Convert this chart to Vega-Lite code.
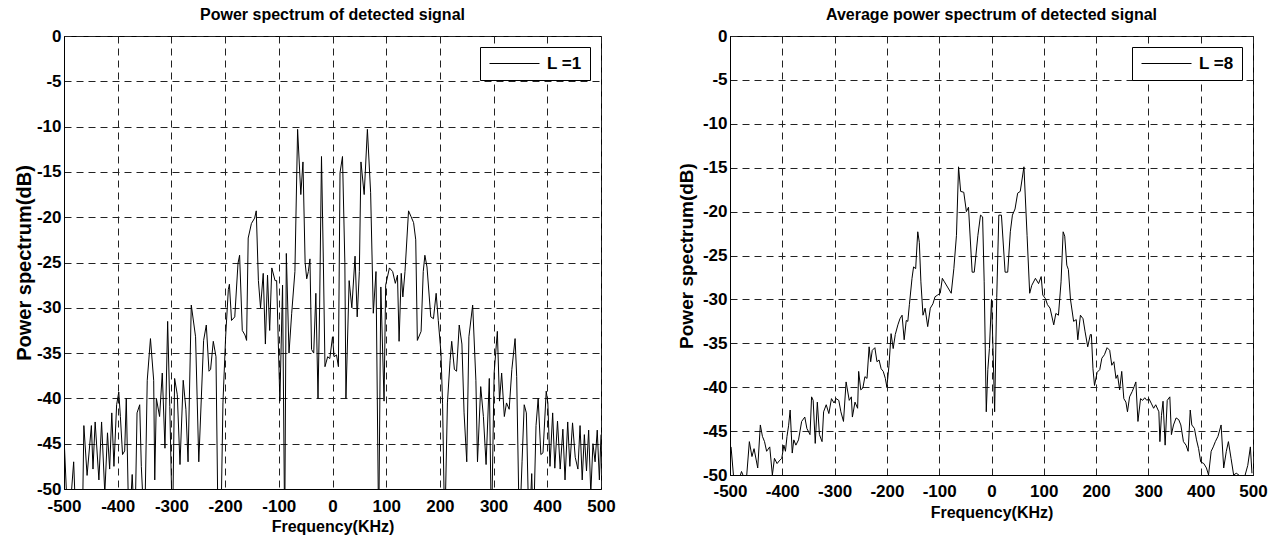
{
  "$schema": "https://vega.github.io/schema/vega-lite/v6.json",
  "background": "white",
  "autosize": {"type": "pad"},
  "padding": {"left": 13, "top": 6, "right": 5, "bottom": 5},
  "datasets": {
    "L1": [
      {"freq": -500, "power": -44.2}, {"freq": -492, "power": -55}, {"freq": -482, "power": -47}, {"freq": -477, "power": -55},
      {"freq": -466, "power": -55}, {"freq": -463, "power": -43}, {"freq": -457, "power": -48.5}, {"freq": -449, "power": -43},
      {"freq": -446, "power": -47.8}, {"freq": -442, "power": -42.6}, {"freq": -435, "power": -49}, {"freq": -430, "power": -42.6},
      {"freq": -424, "power": -50.5}, {"freq": -419, "power": -43.8}, {"freq": -415, "power": -47.8}, {"freq": -411, "power": -41.6},
      {"freq": -407, "power": -47.5}, {"freq": -402, "power": -40.7}, {"freq": -398, "power": -39.3}, {"freq": -395, "power": -42},
      {"freq": -391, "power": -46.2}, {"freq": -387, "power": -45.8}, {"freq": -384, "power": -40}, {"freq": -379, "power": -55},
      {"freq": -373, "power": -48.4}, {"freq": -368, "power": -55}, {"freq": -364, "power": -41.6}, {"freq": -359, "power": -40.7},
      {"freq": -356, "power": -47.5}, {"freq": -350, "power": -55}, {"freq": -345, "power": -38}, {"freq": -339, "power": -33.4},
      {"freq": -333, "power": -38}, {"freq": -331, "power": -49}, {"freq": -328, "power": -40}, {"freq": -322, "power": -42},
      {"freq": -317, "power": -37.2}, {"freq": -312, "power": -45.5}, {"freq": -307, "power": -31.5}, {"freq": -303, "power": -40.9},
      {"freq": -298, "power": -55}, {"freq": -294, "power": -37.8}, {"freq": -289, "power": -39.6}, {"freq": -284, "power": -47.3},
      {"freq": -278, "power": -38}, {"freq": -273, "power": -41.2}, {"freq": -269, "power": -47}, {"freq": -263, "power": -29.7},
      {"freq": -255, "power": -33.2}, {"freq": -249, "power": -47}, {"freq": -240, "power": -33.6}, {"freq": -235, "power": -31.9},
      {"freq": -230, "power": -37}, {"freq": -227, "power": -36.8}, {"freq": -222, "power": -33.7}, {"freq": -217, "power": -35.4},
      {"freq": -213, "power": -55}, {"freq": -208, "power": -55}, {"freq": -204, "power": -40.5}, {"freq": -199, "power": -33.2},
      {"freq": -194, "power": -28}, {"freq": -192, "power": -27.4}, {"freq": -188, "power": -31.4}, {"freq": -182, "power": -31},
      {"freq": -176, "power": -25.1}, {"freq": -173, "power": -24.2}, {"freq": -168, "power": -32.5}, {"freq": -163, "power": -33},
      {"freq": -160, "power": -33.6}, {"freq": -157, "power": -22.3}, {"freq": -151, "power": -20.7}, {"freq": -145, "power": -20.1},
      {"freq": -142, "power": -19.3}, {"freq": -138, "power": -27}, {"freq": -134, "power": -30}, {"freq": -129, "power": -26.2},
      {"freq": -125, "power": -34}, {"freq": -121, "power": -26.4}, {"freq": -117, "power": -32.5}, {"freq": -113, "power": -25.6},
      {"freq": -107, "power": -27}, {"freq": -104, "power": -27}, {"freq": -98, "power": -40.3}, {"freq": -93, "power": -27.5},
      {"freq": -89, "power": -55}, {"freq": -86, "power": -24}, {"freq": -81, "power": -35}, {"freq": -76, "power": -30.6},
      {"freq": -70, "power": -26}, {"freq": -65, "power": -10.3}, {"freq": -59, "power": -17.5}, {"freq": -55, "power": -13.9},
      {"freq": -51, "power": -25}, {"freq": -48, "power": -26.8}, {"freq": -45, "power": -26}, {"freq": -42, "power": -24.6},
      {"freq": -39, "power": -34.6}, {"freq": -35, "power": -35}, {"freq": -31, "power": -28.4}, {"freq": -27, "power": -40},
      {"freq": -24, "power": -30}, {"freq": -20.5, "power": -13.3}, {"freq": -17, "power": -25}, {"freq": -14, "power": -36.5},
      {"freq": -9, "power": -35.4}, {"freq": -5, "power": -35.6}, {"freq": 0, "power": -33.2}, {"freq": 3, "power": -35.4},
      {"freq": 7.5, "power": -35.2}, {"freq": 11, "power": -36.5}, {"freq": 14, "power": -15.1}, {"freq": 18.6, "power": -13.3},
      {"freq": 23, "power": -25}, {"freq": 25, "power": -40}, {"freq": 31, "power": -27}, {"freq": 36, "power": -30},
      {"freq": 42, "power": -24.3}, {"freq": 46, "power": -31}, {"freq": 50, "power": -26}, {"freq": 53, "power": -13.9},
      {"freq": 59, "power": -17.5}, {"freq": 65, "power": -10.3}, {"freq": 71, "power": -17.3}, {"freq": 76, "power": -30.6},
      {"freq": 81, "power": -26}, {"freq": 86, "power": -55}, {"freq": 90, "power": -27.7}, {"freq": 96, "power": -40.3},
      {"freq": 99, "power": -27.5}, {"freq": 106, "power": -25.6}, {"freq": 112, "power": -26}, {"freq": 117, "power": -27.3},
      {"freq": 121, "power": -26.4}, {"freq": 124, "power": -33.7}, {"freq": 128, "power": -26.2}, {"freq": 131, "power": -28.8},
      {"freq": 135, "power": -26}, {"freq": 141.6, "power": -19.3}, {"freq": 146, "power": -19.9}, {"freq": 151, "power": -20.6},
      {"freq": 155, "power": -22.5}, {"freq": 158, "power": -33.6}, {"freq": 165, "power": -32.6}, {"freq": 169, "power": -26},
      {"freq": 172, "power": -24.2}, {"freq": 176, "power": -25.5}, {"freq": 183, "power": -31}, {"freq": 188, "power": -31.2},
      {"freq": 193, "power": -28.4}, {"freq": 197, "power": -31.4}, {"freq": 202, "power": -35}, {"freq": 205, "power": -40.6},
      {"freq": 209, "power": -55}, {"freq": 214, "power": -40.5}, {"freq": 219, "power": -35.8}, {"freq": 222, "power": -33.7},
      {"freq": 227, "power": -36.8}, {"freq": 231, "power": -37}, {"freq": 236, "power": -31.9}, {"freq": 241, "power": -34},
      {"freq": 245, "power": -41.6}, {"freq": 250, "power": -47}, {"freq": 254, "power": -33.2}, {"freq": 261, "power": -29.7},
      {"freq": 267, "power": -38}, {"freq": 270, "power": -47}, {"freq": 276, "power": -38.7}, {"freq": 281, "power": -42},
      {"freq": 286, "power": -47.3}, {"freq": 292, "power": -37.8}, {"freq": 296, "power": -55}, {"freq": 301, "power": -37.2},
      {"freq": 307, "power": -32.6}, {"freq": 311, "power": -40.3}, {"freq": 315, "power": -37.2}, {"freq": 320, "power": -42},
      {"freq": 324, "power": -40.5}, {"freq": 329, "power": -41.2}, {"freq": 334, "power": -36.8}, {"freq": 340, "power": -33.4},
      {"freq": 343, "power": -37.6}, {"freq": 348, "power": -55}, {"freq": 353, "power": -47}, {"freq": 357, "power": -40.7},
      {"freq": 361, "power": -41.6}, {"freq": 366, "power": -55}, {"freq": 371, "power": -48.3}, {"freq": 374, "power": -55},
      {"freq": 379, "power": -43}, {"freq": 383, "power": -40}, {"freq": 388, "power": -46.2}, {"freq": 392, "power": -46},
      {"freq": 398, "power": -39.2}, {"freq": 401, "power": -40.5}, {"freq": 405, "power": -47.5}, {"freq": 410, "power": -41.6},
      {"freq": 414, "power": -47.7}, {"freq": 419, "power": -42.5}, {"freq": 424, "power": -47.8}, {"freq": 429, "power": -43.4},
      {"freq": 433, "power": -49}, {"freq": 438, "power": -42.6}, {"freq": 442, "power": -47.5}, {"freq": 447, "power": -42.7},
      {"freq": 452, "power": -46.5}, {"freq": 457, "power": -47.8}, {"freq": 461, "power": -43}, {"freq": 465, "power": -49},
      {"freq": 469, "power": -44}, {"freq": 473, "power": -48}, {"freq": 477, "power": -43.5}, {"freq": 481, "power": -50.5},
      {"freq": 485, "power": -45}, {"freq": 489, "power": -47}, {"freq": 493, "power": -43.5}, {"freq": 497, "power": -49},
      {"freq": 500, "power": -44}
    ],
    "L8": [
      {"freq": -498, "power": -46.8}, {"freq": -492, "power": -51}, {"freq": -485, "power": -51}, {"freq": -478, "power": -49.6},
      {"freq": -472, "power": -50.5}, {"freq": -468, "power": -50}, {"freq": -463, "power": -46.2}, {"freq": -458, "power": -47.9},
      {"freq": -454, "power": -47}, {"freq": -447, "power": -49.2}, {"freq": -442, "power": -44.3}, {"freq": -438, "power": -45.6},
      {"freq": -434, "power": -46.2}, {"freq": -430, "power": -47.3}, {"freq": -424, "power": -46.8}, {"freq": -419, "power": -50},
      {"freq": -415, "power": -48.1}, {"freq": -410, "power": -48.7}, {"freq": -406, "power": -48.4}, {"freq": -401, "power": -48.1},
      {"freq": -397, "power": -46.6}, {"freq": -394, "power": -47.3}, {"freq": -391, "power": -45.6}, {"freq": -388, "power": -44.4},
      {"freq": -385, "power": -42.6}, {"freq": -381, "power": -47.5}, {"freq": -378, "power": -46}, {"freq": -374, "power": -46.6},
      {"freq": -369, "power": -46}, {"freq": -363, "power": -43.9}, {"freq": -357, "power": -43.4}, {"freq": -353, "power": -44.7},
      {"freq": -347, "power": -45.4}, {"freq": -344, "power": -41.1}, {"freq": -341, "power": -41.5}, {"freq": -337, "power": -46.4},
      {"freq": -333, "power": -41.7}, {"freq": -329, "power": -45.4}, {"freq": -324, "power": -46.2}, {"freq": -321, "power": -42.8},
      {"freq": -316, "power": -42}, {"freq": -311, "power": -43}, {"freq": -306, "power": -41.3}, {"freq": -301, "power": -41.8},
      {"freq": -297, "power": -41.3}, {"freq": -292, "power": -41.5}, {"freq": -288, "power": -42.8}, {"freq": -283, "power": -43.9},
      {"freq": -278, "power": -39.4}, {"freq": -272, "power": -41.5}, {"freq": -268, "power": -41.1}, {"freq": -266, "power": -43.4},
      {"freq": -261, "power": -41.7}, {"freq": -256, "power": -42.4}, {"freq": -254, "power": -38.2}, {"freq": -250, "power": -40.3},
      {"freq": -246, "power": -40.1}, {"freq": -242, "power": -38.8}, {"freq": -238, "power": -39}, {"freq": -234, "power": -35.4},
      {"freq": -231, "power": -37.1}, {"freq": -228, "power": -35.8}, {"freq": -223, "power": -35.5}, {"freq": -219, "power": -37.1},
      {"freq": -215, "power": -36.9}, {"freq": -211, "power": -37.9}, {"freq": -207, "power": -38.2}, {"freq": -203, "power": -39},
      {"freq": -200, "power": -40}, {"freq": -196, "power": -37.5}, {"freq": -192, "power": -33.9}, {"freq": -188, "power": -35.6},
      {"freq": -184, "power": -34}, {"freq": -179, "power": -32.9}, {"freq": -175, "power": -32.2}, {"freq": -171, "power": -31.8},
      {"freq": -167, "power": -34.6}, {"freq": -163, "power": -32.4}, {"freq": -160, "power": -32.5}, {"freq": -157, "power": -30.6},
      {"freq": -152, "power": -27.6}, {"freq": -149, "power": -26.3}, {"freq": -145, "power": -26.5}, {"freq": -141, "power": -22.3},
      {"freq": -138, "power": -23.5}, {"freq": -135, "power": -28}, {"freq": -131, "power": -31.8}, {"freq": -127, "power": -31},
      {"freq": -122, "power": -33.1}, {"freq": -117, "power": -31}, {"freq": -112, "power": -30.5}, {"freq": -108, "power": -29.7},
      {"freq": -103, "power": -29.5}, {"freq": -98, "power": -29.3}, {"freq": -94, "power": -27.6}, {"freq": -90, "power": -28},
      {"freq": -83, "power": -28.7}, {"freq": -77, "power": -29.3}, {"freq": -72, "power": -26.5}, {"freq": -67, "power": -22.7},
      {"freq": -63, "power": -14.9}, {"freq": -59, "power": -17.7}, {"freq": -53, "power": -17.8}, {"freq": -48, "power": -20},
      {"freq": -44, "power": -19.5}, {"freq": -37, "power": -26.9}, {"freq": -33, "power": -26.9}, {"freq": -26, "power": -22.7},
      {"freq": -21, "power": -20.4}, {"freq": -17, "power": -20.6}, {"freq": -14, "power": -28}, {"freq": -10, "power": -42.8},
      {"freq": -7, "power": -38}, {"freq": -4, "power": -35.6}, {"freq": 0, "power": -30}, {"freq": 3, "power": -35.8},
      {"freq": 6, "power": -42.8}, {"freq": 10, "power": -29.8}, {"freq": 14, "power": -20.4}, {"freq": 19, "power": -20.4},
      {"freq": 26, "power": -26.9}, {"freq": 31, "power": -26.9}, {"freq": 36, "power": -22.3}, {"freq": 40, "power": -20.4},
      {"freq": 45, "power": -19.7}, {"freq": 50, "power": -17.9}, {"freq": 55, "power": -17.7}, {"freq": 62, "power": -14.9},
      {"freq": 68, "power": -22.7}, {"freq": 73, "power": -29.3}, {"freq": 77, "power": -28.4}, {"freq": 84, "power": -27.6},
      {"freq": 90, "power": -28.2}, {"freq": 95, "power": -27.4}, {"freq": 98, "power": -29.5}, {"freq": 103, "power": -29.9},
      {"freq": 107, "power": -30.6}, {"freq": 112, "power": -31}, {"freq": 119, "power": -32.9}, {"freq": 123, "power": -31.6},
      {"freq": 128, "power": -31.8}, {"freq": 133, "power": -28}, {"freq": 137, "power": -22.3}, {"freq": 140, "power": -22.8},
      {"freq": 144, "power": -26.1}, {"freq": 147, "power": -26.6}, {"freq": 151, "power": -30}, {"freq": 157, "power": -32.5},
      {"freq": 162, "power": -32.3}, {"freq": 165, "power": -34.6}, {"freq": 170, "power": -31.8}, {"freq": 175, "power": -32.2},
      {"freq": 179, "power": -33.7}, {"freq": 184, "power": -35.4}, {"freq": 189, "power": -34}, {"freq": 191, "power": -34},
      {"freq": 194, "power": -37.9}, {"freq": 197, "power": -39.8}, {"freq": 202, "power": -38.3}, {"freq": 207, "power": -38},
      {"freq": 211, "power": -36.7}, {"freq": 216, "power": -36.3}, {"freq": 221, "power": -35.5}, {"freq": 226, "power": -35.8},
      {"freq": 230, "power": -37.5}, {"freq": 234, "power": -37.1}, {"freq": 238, "power": -39}, {"freq": 241, "power": -38.6},
      {"freq": 245, "power": -40.3}, {"freq": 249, "power": -38.2}, {"freq": 253, "power": -41.3}, {"freq": 257, "power": -41.7},
      {"freq": 260, "power": -42.8}, {"freq": 264, "power": -41.1}, {"freq": 269, "power": -40.5}, {"freq": 273, "power": -39.9},
      {"freq": 276, "power": -39.4}, {"freq": 280, "power": -43.9}, {"freq": 285, "power": -41.3}, {"freq": 289, "power": -41.5},
      {"freq": 293, "power": -41.2}, {"freq": 297, "power": -41.5}, {"freq": 301, "power": -41.3}, {"freq": 306, "power": -41.9},
      {"freq": 310, "power": -42.4}, {"freq": 314, "power": -42}, {"freq": 320, "power": -42.8}, {"freq": 322, "power": -46.2},
      {"freq": 325, "power": -43.2}, {"freq": 328, "power": -41.6}, {"freq": 332, "power": -46.6}, {"freq": 336, "power": -41.5},
      {"freq": 341, "power": -41.1}, {"freq": 344, "power": -45.4}, {"freq": 348, "power": -44.3}, {"freq": 353, "power": -43.5},
      {"freq": 358, "power": -43.7}, {"freq": 362, "power": -44.3}, {"freq": 367, "power": -46.2}, {"freq": 372, "power": -46.6},
      {"freq": 376, "power": -47.3}, {"freq": 380, "power": -42.6}, {"freq": 383, "power": -44.3}, {"freq": 388, "power": -44.7},
      {"freq": 392, "power": -46}, {"freq": 396, "power": -47}, {"freq": 400, "power": -48.5}, {"freq": 406, "power": -48.7},
      {"freq": 411, "power": -49.2}, {"freq": 415, "power": -50}, {"freq": 420, "power": -47.3}, {"freq": 424, "power": -46.8},
      {"freq": 428, "power": -46.2}, {"freq": 433, "power": -45.6}, {"freq": 439, "power": -44.3}, {"freq": 444, "power": -49.2},
      {"freq": 449, "power": -47.3}, {"freq": 453, "power": -46.2}, {"freq": 458, "power": -48.1}, {"freq": 463, "power": -50},
      {"freq": 468, "power": -49.8}, {"freq": 473, "power": -50}, {"freq": 479, "power": -50.3}, {"freq": 485, "power": -50},
      {"freq": 490, "power": -48.9}, {"freq": 495, "power": -46.8}, {"freq": 498, "power": -49.8}
    ]
  },
  "config": {
    "font": "Liberation Sans",
    "view": {"stroke": "black", "strokeWidth": 1},
    "axis": {
      "domainColor": "black", "domainWidth": 1, "ticks": false,
      "grid": true, "gridColor": "#222222", "gridDash": [7, 5], "gridWidth": 1, "gridOpacity": 1,
      "labelFont": "Liberation Sans", "labelFontWeight": "bold", "labelFontSize": 17, "labelColor": "black",
      "labelFlush": false, "labelOverlap": false, "labelExpr": "'' + datum.value",
      "titleFont": "Liberation Sans", "titleFontWeight": "bold", "titleColor": "black"
    },
    "title": {"font": "Liberation Sans", "fontSize": 16, "fontWeight": "bold", "color": "black", "offset": 4},
    "legend": {
      "orient": "top-right", "offset": 11, "strokeColor": "black", "fillColor": "white", "padding": 8,
      "symbolType": "M-5,0H5", "symbolSize": 100, "symbolOffset": 18, "symbolStrokeWidth": 1, "symbolStrokeColor": "black",
      "labelFont": "Liberation Sans", "labelFontSize": 17, "labelFontWeight": "bold", "labelColor": "black", "labelOffset": 24
    }
  },
  "spacing": 60,
  "resolve": {
    "scale": {"x": "independent", "y": "independent", "color": "independent"},
    "legend": {"color": "independent"}
  },
  "hconcat": [
    {
      "title": "Power spectrum of detected signal",
      "width": 537,
      "height": 453,
      "data": {"name": "L1"},
      "mark": {"type": "line", "color": "black", "strokeWidth": 1, "clip": true},
      "encoding": {
        "x": {
          "field": "freq", "type": "quantitative",
          "scale": {"domain": [-500, 500], "nice": false, "zero": false},
          "axis": {"values": [-500, -400, -300, -200, -100, 0, 100, 200, 300, 400, 500], "title": "Frequency(KHz)",
                   "labelFontWeight": "bold", "titleFontSize": 16, "labelPadding": 9, "titlePadding": 4}
        },
        "y": {
          "field": "power", "type": "quantitative",
          "scale": {"domain": [-50, 0], "nice": false, "zero": false},
          "axis": {"values": [-50, -45, -40, -35, -30, -25, -20, -15, -10, -5, 0], "title": "Power spectrum(dB)",
                   "labelFontWeight": "bold", "titleFontSize": 20, "labelPadding": 3, "titlePadding": 2}
        },
        "color": {"datum": "L =1", "scale": {"range": ["black"]}, "legend": {"title": null}}
      }
    },
    {
      "title": "Average power spectrum of detected signal",
      "width": 523,
      "height": 439,
      "data": {"name": "L8"},
      "mark": {"type": "line", "color": "black", "strokeWidth": 1, "clip": true},
      "encoding": {
        "x": {
          "field": "freq", "type": "quantitative",
          "scale": {"domain": [-500, 500], "nice": false, "zero": false},
          "axis": {"values": [-500, -400, -300, -200, -100, 0, 100, 200, 300, 400, 500], "title": "Frequency(KHz)",
                   "labelFontWeight": "bold", "titleFontSize": 16, "labelPadding": 8, "titlePadding": 5}
        },
        "y": {
          "field": "power", "type": "quantitative",
          "scale": {"domain": [-50, 0], "nice": false, "zero": false},
          "axis": {"values": [-50, -45, -40, -35, -30, -25, -20, -15, -10, -5, 0], "title": "Power spectrum(dB)",
                   "labelFontWeight": "bold", "titleFontSize": 19, "labelPadding": 3, "titlePadding": 6}
        },
        "color": {"datum": "L =8", "scale": {"range": ["black"]}, "legend": {"title": null}}
      }
    }
  ]
}
